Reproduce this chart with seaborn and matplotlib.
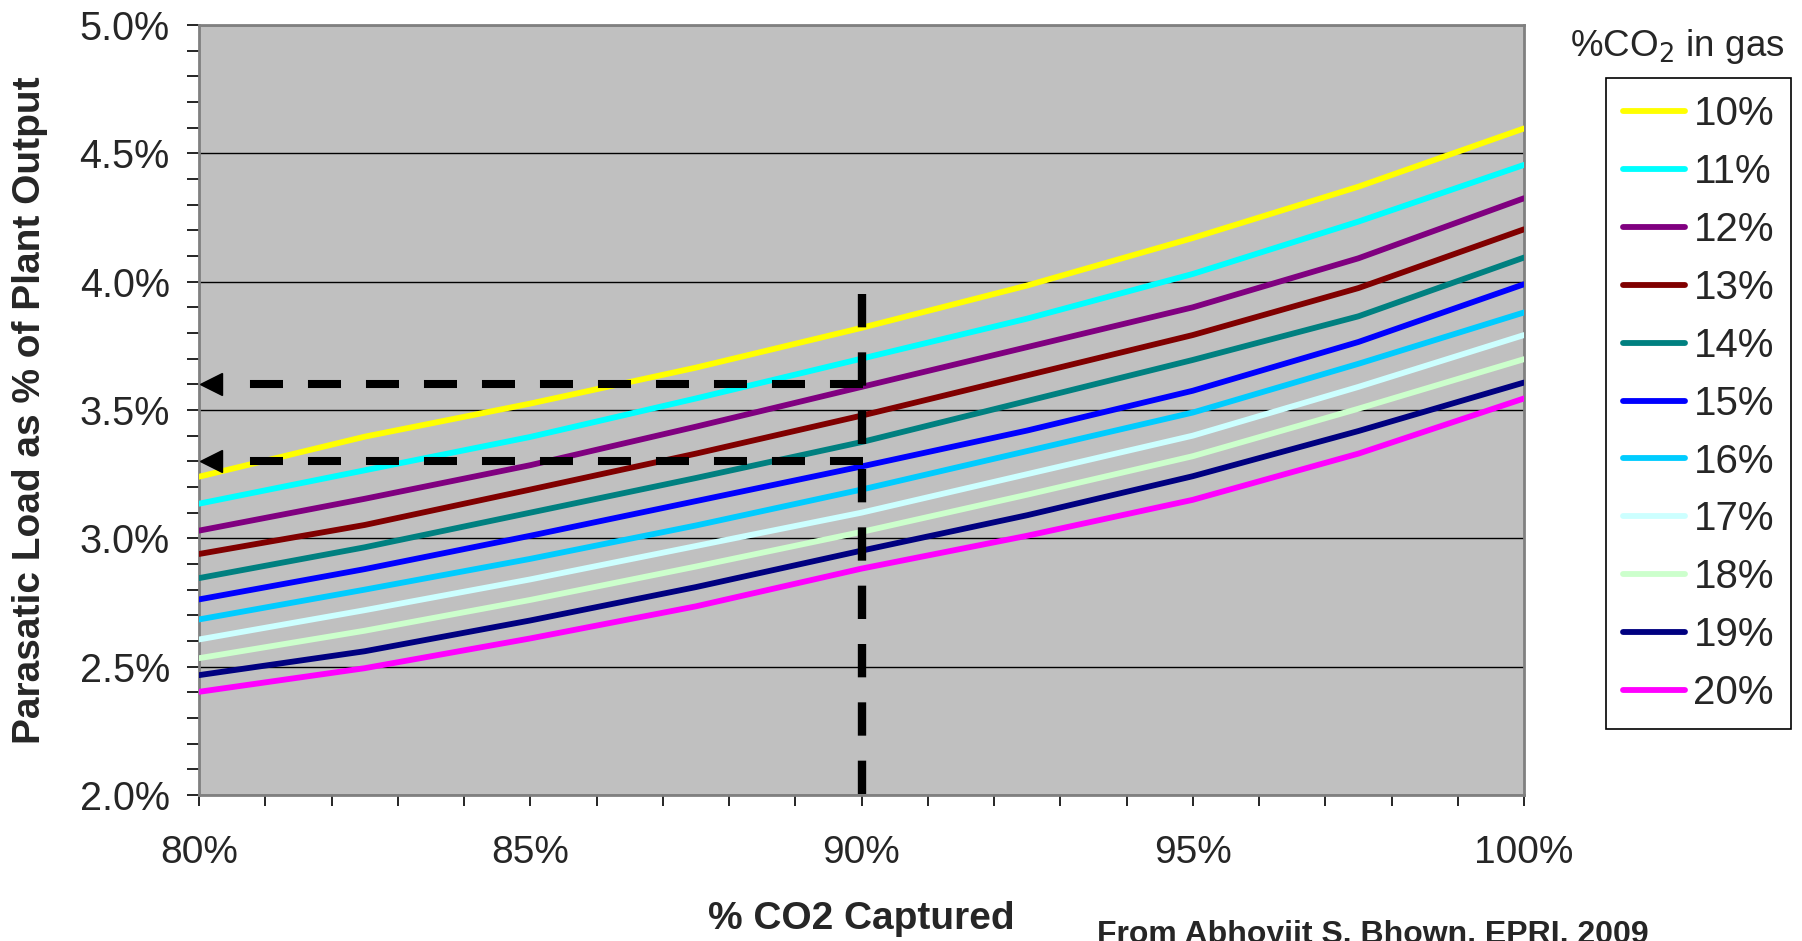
import numpy as np
import pandas as pd
import matplotlib
matplotlib.use('Agg')
import matplotlib.pyplot as plt
from matplotlib.ticker import MultipleLocator
import seaborn as sns

# % CO2 captured (x) and parasitic load for each flue gas CO2 content
captured = [80, 82.5, 85, 87.5, 90, 92.5, 95, 97.5, 100]
co2_labels = ['10%', '11%', '12%', '13%', '14%', '15%', '16%', '17%', '18%', '19%', '20%']
load_10 = [3.24, 3.396, 3.525, 3.665, 3.82, 3.985, 4.17, 4.37, 4.597]
load_11 = [3.135, 3.265, 3.395, 3.545, 3.70, 3.856, 4.03, 4.234, 4.455]
load_12 = [3.03, 3.154, 3.285, 3.435, 3.59, 3.745, 3.90, 4.091, 4.325]
load_13 = [2.939, 3.052, 3.19, 3.33, 3.478, 3.635, 3.792, 3.975, 4.204]
load_14 = [2.845, 2.965, 3.10, 3.235, 3.375, 3.535, 3.695, 3.865, 4.094]
load_15 = [2.762, 2.88, 3.01, 3.145, 3.28, 3.42, 3.575, 3.765, 3.99]
load_16 = [2.684, 2.80, 2.92, 3.05, 3.19, 3.34, 3.49, 3.68, 3.88]
load_17 = [2.606, 2.72, 2.84, 2.97, 3.10, 3.25, 3.40, 3.59, 3.792]
load_18 = [2.533, 2.64, 2.76, 2.89, 3.025, 3.17, 3.32, 3.505, 3.698]
load_19 = [2.467, 2.56, 2.68, 2.81, 2.952, 3.09, 3.242, 3.418, 3.607]
load_20 = [2.402, 2.494, 2.61, 2.735, 2.882, 3.01, 3.15, 3.33, 3.545]
all_loads = [load_10, load_11, load_12, load_13, load_14, load_15,
             load_16, load_17, load_18, load_19, load_20]

colors = ['#FFFF00', '#00FFFF', '#800080', '#800000', '#008080', '#0000FF',
          '#00CCFF', '#CCFFFF', '#CCFFCC', '#000080', '#FF00FF']

# guide lines (90% capture, read-off levels)
guide_x = 90
guide_top = 3.953
guide_levels = [3.6, 3.3]

x_ticks = [80, 85, 90, 95, 100]
x_ticklabels = ['80%', '85%', '90%', '95%', '100%']
y_ticks = [2.0, 2.5, 3.0, 3.5, 4.0, 4.5, 5.0]
y_ticklabels = ['2.0%', '2.5%', '3.0%', '3.5%', '4.0%', '4.5%', '5.0%']

# long form table for seaborn
rows = []
for lab, vals in zip(co2_labels, all_loads):
    for x, v in zip(captured, vals):
        rows.append((x, v, lab))
df = pd.DataFrame(rows, columns=['captured', 'load', 'co2'])

sns.set_style('white')
plt.rcParams['font.family'] = ['Liberation Sans', 'DejaVu Sans']

fig = plt.figure(figsize=(18.02, 9.41), dpi=100)
ax = fig.add_axes([199 / 1802, 1 - 795 / 941, 1325 / 1802, 770 / 941])
ax.set_facecolor('#C0C0C0')

sns.lineplot(data=df, x='captured', y='load', hue='co2', hue_order=co2_labels,
             palette=colors, linewidth=4.2, ax=ax, legend='full', zorder=3)

# dashed guides
ax.plot([guide_x, guide_x], [guide_top, 2.0], color='black', lw=6,
        dashes=(4.0, 3.0), zorder=5, clip_on=False)
for lvl in guide_levels:
    ax.plot([guide_x + 0.03, 80.54], [lvl, lvl], color='black', lw=5.8,
            dashes=(4.1, 3.1), zorder=5)
    ax.plot([80.18], [lvl], marker='<', markersize=16.5, color='black',
            zorder=6, clip_on=False)

ax.set_xlim(80, 100)
ax.set_ylim(2.0, 5.0)
ax.set_xticks(x_ticks)
ax.set_xticklabels(x_ticklabels)
ax.set_yticks(y_ticks)
ax.set_yticklabels(y_ticklabels)
ax.xaxis.set_minor_locator(MultipleLocator(1))
ax.yaxis.set_minor_locator(MultipleLocator(0.1))
ax.tick_params(axis='both', which='both', direction='out', color='black', width=1.2)
ax.tick_params(axis='x', which='both', length=8, bottom=True)
ax.tick_params(axis='y', which='both', length=9, left=True)
ax.tick_params(axis='x', which='major', labelsize=28, pad=21)
ax.tick_params(axis='y', which='major', labelsize=28.5, pad=12)
ax.yaxis.grid(True, which='major', color='black', lw=1)
ax.set_axisbelow(True)
for sp in ax.spines.values():
    sp.set_color('#808080')
    sp.set_linewidth(2)

ax.set_xlabel('% CO2 Captured', fontsize=28, fontweight='bold')
ax.xaxis.set_label_coords(0.5, -0.138)
ax.set_ylabel('Parasatic Load as % of Plant Output', fontsize=28, fontweight='bold')
ax.yaxis.set_label_coords(-0.114, 0.5)

handles, labels = ax.get_legend_handles_labels()
for h in handles:
    h.set_linewidth(4.2)
leg = ax.legend(handles, labels, loc='upper left',
                bbox_to_anchor=(1606 / 1802, 1 - 78 / 941), bbox_transform=fig.transFigure,
                borderaxespad=0, fontsize=29, frameon=True, fancybox=False,
                handlelength=1.55, handletextpad=0.2, labelspacing=0.495,
                borderpad=0.42)
leg.get_frame().set_edgecolor('black')
leg.get_frame().set_linewidth(1.2)
leg.get_frame().set_facecolor('white')
leg.get_frame().set_alpha(1)

fig.text(1677 / 1802, 1 - 46 / 941, '%CO$_2$ in gas', fontsize=26.5,
         ha='center', va='center')
fig.text(1097 / 1802, 1 - 920 / 941, 'From Abhoyjit S. Bhown, EPRI, 2009',
         fontsize=23, fontweight='bold', ha='left', va='top')

fig.savefig('out.png', dpi=100)
